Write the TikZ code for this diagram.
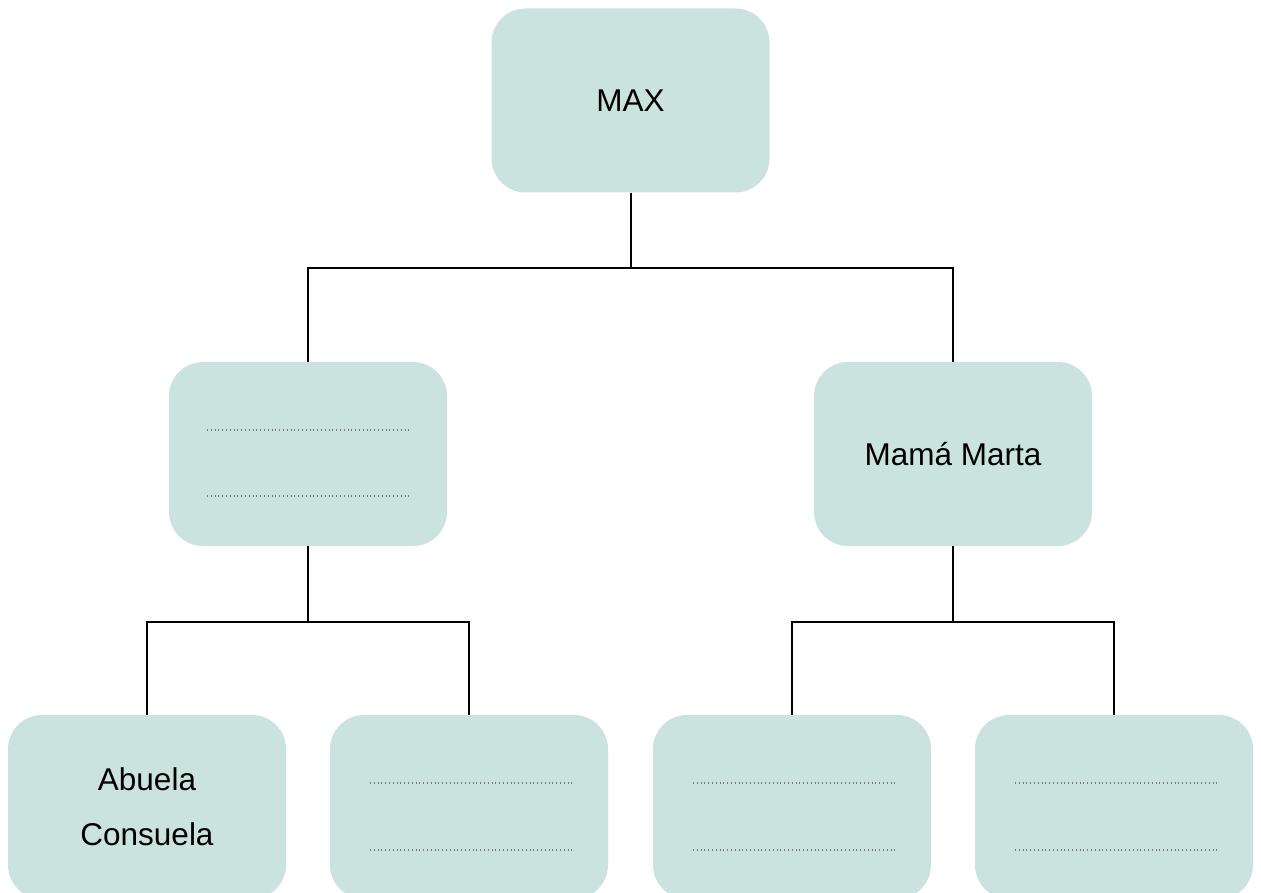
\documentclass[tikz,border=0pt]{standalone}
\usepackage{fontspec}
\setmainfont{Liberation Sans}
\usetikzlibrary{calc}
\definecolor{boxfill}{RGB}{203,227,223}
\definecolor{dotgray}{RGB}{120,120,120}
\tikzset{
  famboxstyle/.style={rectangle, rounded corners=34pt, fill=boxfill, draw=none,
    minimum width=278pt, minimum height=184pt, inner sep=0pt, align=center,
    font=\fontsize{31.5}{55}\selectfont},
  linkstyle/.style={line width=2pt, black},
  blankstyle/.style={dotgray, line width=1.1pt, dash pattern=on 1pt off 2.8pt}
}
\begin{document}
\begin{tikzpicture}[x=1pt,y=-1pt]
\useasboundingbox (0,0) rectangle (1261,893);
\clip (0,0) rectangle (1261,893);
\node[famboxstyle] (max) at (630.5,100.5) {MAX};
\node[famboxstyle] (left) at (308,454) {};
\node[famboxstyle] (marta) at (953,454) {Mamá Marta};
\node[famboxstyle] (abuela) at (147,807) {Abuela\\Consuela};
\node[famboxstyle] (b2) at (469,807) {};
\node[famboxstyle] (b3) at (792,807) {};
\node[famboxstyle] (b4) at (1114,807) {};
% connectors
\draw[linkstyle] (max.south) -- ++(0,75) -| (left.north);
\draw[linkstyle] (max.south) ++(0,75) -| (marta.north);
\draw[linkstyle] (left.south) -- ++(0,76) -| (abuela.north);
\draw[linkstyle] (left.south) ++(0,76) -| (b2.north);
\draw[linkstyle] (marta.south) -- ++(0,76) -| (b3.north);
\draw[linkstyle] (marta.south) ++(0,76) -| (b4.north);
% blank lines
\foreach \n in {left} {
  \draw[blankstyle] ($(\n.center)+(-101,-24)$) -- ($(\n.center)+(103,-24)$);
  \draw[blankstyle] ($(\n.center)+(-101,42)$) -- ($(\n.center)+(103,42)$);
}
\foreach \n in {b2,b3,b4} {
  \draw[blankstyle] ($(\n.center)+(-99,-24)$) -- ($(\n.center)+(103,-24)$);
  \draw[blankstyle] ($(\n.center)+(-99,43)$) -- ($(\n.center)+(103,43)$);
}
\end{tikzpicture}
\end{document}
